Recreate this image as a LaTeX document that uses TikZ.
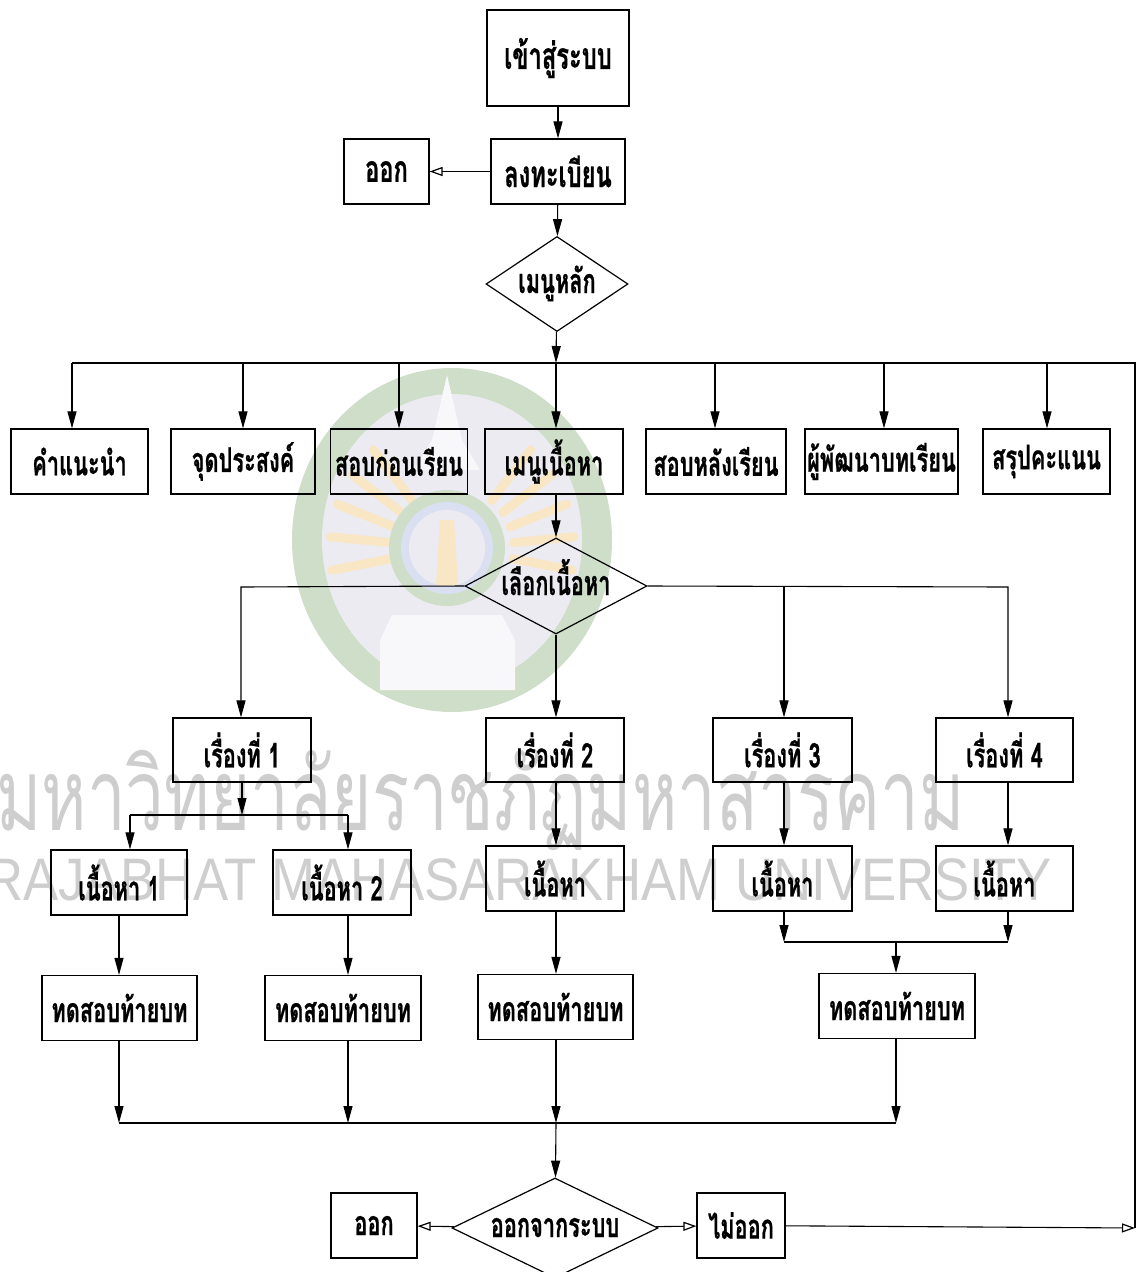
\documentclass[tikz,border=0pt]{standalone}
\usepackage{fontspec}
\newfontfamily\thaifont[Script=Thai,FakeStretch=0.64,BoldFeatures={FakeBold=0.6}]{Loma}
\newfontfamily\wmthai[Script=Thai,FakeStretch=0.69]{Loma}
\newfontfamily\wmlat[FakeStretch=0.88]{Liberation Sans}
\usetikzlibrary{arrows.meta,shapes.geometric}
\definecolor{wmring}{RGB}{206,222,200}
\definecolor{wminner}{RGB}{237,235,242}
\definecolor{wmorange}{RGB}{248,230,196}
\definecolor{wmblue}{RGB}{218,224,242}
\definecolor{wmtext}{RGB}{206,206,206}
\tikzset{
  box/.style={draw,line width=1.2pt,inner sep=0pt,
    font=\thaifont\bfseries\fontsize{34}{36}\selectfont},
  bigbox/.style={box,font=\thaifont\bfseries\fontsize{37}{40}\selectfont},
  dec/.style={diamond,draw,line width=1.2pt,inner sep=0pt,
    text height=20pt,text depth=2pt,
    font=\thaifont\bfseries\fontsize{34}{36}\selectfont},
  ln/.style={line width=1.1pt},
  arr/.style={ln,-{Triangle[length=17pt,width=9pt]}},
  oarr/.style={ln,-{Triangle[open,length=13pt,width=9pt,line width=1.2pt]}},
}
\begin{document}
\begin{tikzpicture}[x=1pt,y=-1pt]
\useasboundingbox (0,0) rectangle (1138,1272);
% ---------- watermark ----------
\fill[wmring] (452,540) ellipse [x radius=160,y radius=172];
\fill[wminner] (452,540) ellipse [x radius=130,y radius=146];
\foreach \a in {-10,5,20,35,50,130,145,160,175,190}
  \draw[wmorange,line width=9pt,line cap=round]
    ({452+62*cos(\a)},{548-62*sin(\a)}) -- ({452+122*cos(\a)},{548-128*sin(\a)});
\fill[wmring] (447,548) circle (58);
\fill[wmblue] (447,548) circle (46);
\fill[wminner] (447,548) circle (38);
\fill[wmorange] (440,520) -- (454,520) -- (458,585) -- (436,585) -- cycle;
\fill[white!60!wminner] (447,375) -- (462,440) -- (480,470) -- (414,470) -- (432,440) -- cycle;
\fill[white!60!wminner] (392,615) -- (502,615) -- (515,640) -- (515,690) -- (380,690) -- (380,640) -- cycle;
\node[anchor=base west,inner sep=0pt,text=wmtext,
  font=\wmthai\fontsize{100}{100}\selectfont] (wm1) at (-4,830) {มหาวิทยาลัยราชภัฏมหาสารคาม};
\node[anchor=base west,inner sep=0pt,text=wmtext,
  font=\wmlat\fontsize{60}{60}\selectfont] (wm2) at (-15,900) {RAJABHAT MAHASARAKHAM UNIVERSITY};
% ---------- nodes ----------
\node[bigbox,minimum width=142pt,minimum height=96pt] (enter) at (558,58) {เข้าสู่ระบบ};
\node[bigbox,minimum width=134pt,minimum height=65pt] (reg) at (558,171.5) {ลงทะเบียน};
\node[bigbox,minimum width=85pt,minimum height=65pt] (exit1) at (386.5,171.5) {ออก};
\node[dec,aspect=1.5,minimum width=142pt,minimum height=95pt] (mm) at (557,284) {เมนูหลัก};
\node[box,minimum width=137pt,minimum height=65pt] (r1) at (79.5,461.5) {คำแนะนำ};
\node[box,minimum width=144pt,minimum height=65pt] (r2) at (243,461.5) {จุดประสงค์};
\node[box,minimum width=137pt,minimum height=65pt] (r3) at (399,461.5) {สอบก่อนเรียน};
\node[box,minimum width=138pt,minimum height=65pt] (r4) at (554,461.5) {เมนูเนื้อหา};
\node[box,minimum width=140pt,minimum height=65pt] (r5) at (716,461.5) {สอบหลังเรียน};
\node[box,minimum width=153pt,minimum height=65pt] (r6) at (881.5,461.5) {ผู้พัฒนาบทเรียน};
\node[box,minimum width=127pt,minimum height=65pt] (r7) at (1046.5,461.5) {สรุปคะแนน};
\node[dec,aspect=1.9,minimum width=182pt,minimum height=96pt] (ch) at (556,586) {เลือกเนื้อหา};
\node[box,minimum width=138pt,minimum height=64pt] (s1) at (242,750) {เรื่องที่ 1};
\node[box,minimum width=138pt,minimum height=64pt] (s2) at (555,750) {เรื่องที่ 2};
\node[box,minimum width=139pt,minimum height=64pt] (s3) at (782.5,750) {เรื่องที่ 3};
\node[box,minimum width=137pt,minimum height=64pt] (s4) at (1004.5,750) {เรื่องที่ 4};
\node[box,minimum width=136pt,minimum height=65pt] (c1) at (119,882.5) {เนื้อหา 1};
\node[box,minimum width=138pt,minimum height=65pt] (c2) at (342,882.5) {เนื้อหา 2};
\node[box,minimum width=138pt,minimum height=65pt] (c3) at (555,878.5) {เนื้อหา};
\node[box,minimum width=139pt,minimum height=65pt] (c4) at (782.5,878.5) {เนื้อหา};
\node[box,minimum width=137pt,minimum height=65pt] (c5) at (1004.5,878.5) {เนื้อหา};
\node[box,minimum width=155pt,minimum height=65pt] (t1) at (119.5,1008) {ทดสอบท้ายบท};
\node[box,minimum width=156pt,minimum height=65pt] (t2) at (343,1008) {ทดสอบท้ายบท};
\node[box,minimum width=155pt,minimum height=65pt] (t3) at (555.5,1007) {ทดสอบท้ายบท};
\node[box,minimum width=156pt,minimum height=65pt] (t4) at (897,1006) {ทดสอบท้ายบท};
\node[dec,aspect=2.06,minimum width=206pt,minimum height=100pt] (ex) at (555,1228) {ออกจากระบบ};
\node[box,minimum width=86pt,minimum height=65pt] (exit2) at (374,1225.5) {ออก};
\node[box,minimum width=88pt,minimum height=65pt] (noex) at (741,1225.5) {ไม่ออก};
% ---------- junction coordinates ----------
\coordinate (busC) at (556,363);
\coordinate (d1) at (72,363);
\coordinate (d2) at (243,363);
\coordinate (d3) at (399,363);
\coordinate (d5) at (715,363);
\coordinate (d6) at (884,363);
\coordinate (d7) at (1047,363);
\coordinate (busR) at (1135,363);
\coordinate (retR) at (1135,1228);
\coordinate (bL) at (241,587);
\coordinate (b3) at (784,587);
\coordinate (bR) at (1008,587);
\coordinate (k1) at (242,815);
\coordinate (kL) at (130,815);
\coordinate (kR) at (348,815);
\coordinate (m3) at (784,942);
\coordinate (m4) at (1008,942);
\coordinate (mC) at (896,942);
\coordinate (q1) at (119,1123);
\coordinate (q2) at (348,1123);
\coordinate (q3) at (556,1123);
\coordinate (q4) at (896,1123);
% ---------- connectors ----------
\draw[arr] (enter) -- (reg);
\draw[oarr] (reg) -- (exit1);
\draw[arr] (reg) -- (mm);
\draw[arr] (mm) -- (busC);
\draw[ln] (d1) -- (busR) -- (retR);
\draw[arr] (d1) -- (d1 |- r1.north);
\draw[arr] (d2) -- (d2 |- r2.north);
\draw[arr] (d3) -- (d3 |- r3.north);
\draw[arr] (busC) -- (busC |- r4.north);
\draw[arr] (d5) -- (d5 |- r5.north);
\draw[arr] (d6) -- (d6 |- r6.north);
\draw[arr] (d7) -- (d7 |- r7.north);
\draw[arr] (r4.south -| busC) -- (ch);
\draw[arr] (ch.west) -- (bL) -- (bL |- s1.north);
\draw[arr] (ch.east) -- (bR) -- (bR |- s4.north);
\draw[arr] (b3) -- (b3 |- s3.north);
\draw[arr] (ch) -- (ch |- s2.north);
\draw[arr] (s1.south -| k1) -- (k1);
\draw[ln] (kL) -- (kR);
\draw[arr] (kL) -- (kL |- c1.north);
\draw[arr] (kR) -- (kR |- c2.north);
\draw[arr] (s2.south -| busC) -- (busC |- c3.north);
\draw[arr] (b3 |- s3.south) -- (b3 |- c4.north);
\draw[arr] (bR |- s4.south) -- (bR |- c5.north);
\draw[arr] (q1 |- c1.south) -- (q1 |- t1.north);
\draw[arr] (kR |- c2.south) -- (kR |- t2.north);
\draw[arr] (busC |- c3.south) -- (busC |- t3.north);
\draw[arr] (m3 |- c4.south) -- (m3);
\draw[arr] (m4 |- c5.south) -- (m4);
\draw[ln] (m3) -- (m4);
\draw[arr] (mC) -- (mC |- t4.north);
\draw[arr] (q1 |- t1.south) -- (q1);
\draw[arr] (q2 |- t2.south) -- (q2);
\draw[arr] (q3 |- t3.south) -- (q3);
\draw[arr] (q4 |- t4.south) -- (q4);
\draw[ln] (q1) -- (q4);
\draw[arr] (q3) -- (ex);
\draw[oarr] (ex) -- (exit2);
\draw[oarr] (ex) -- (noex);
\draw[oarr] (noex) -- (retR);
\end{tikzpicture}
\end{document}
